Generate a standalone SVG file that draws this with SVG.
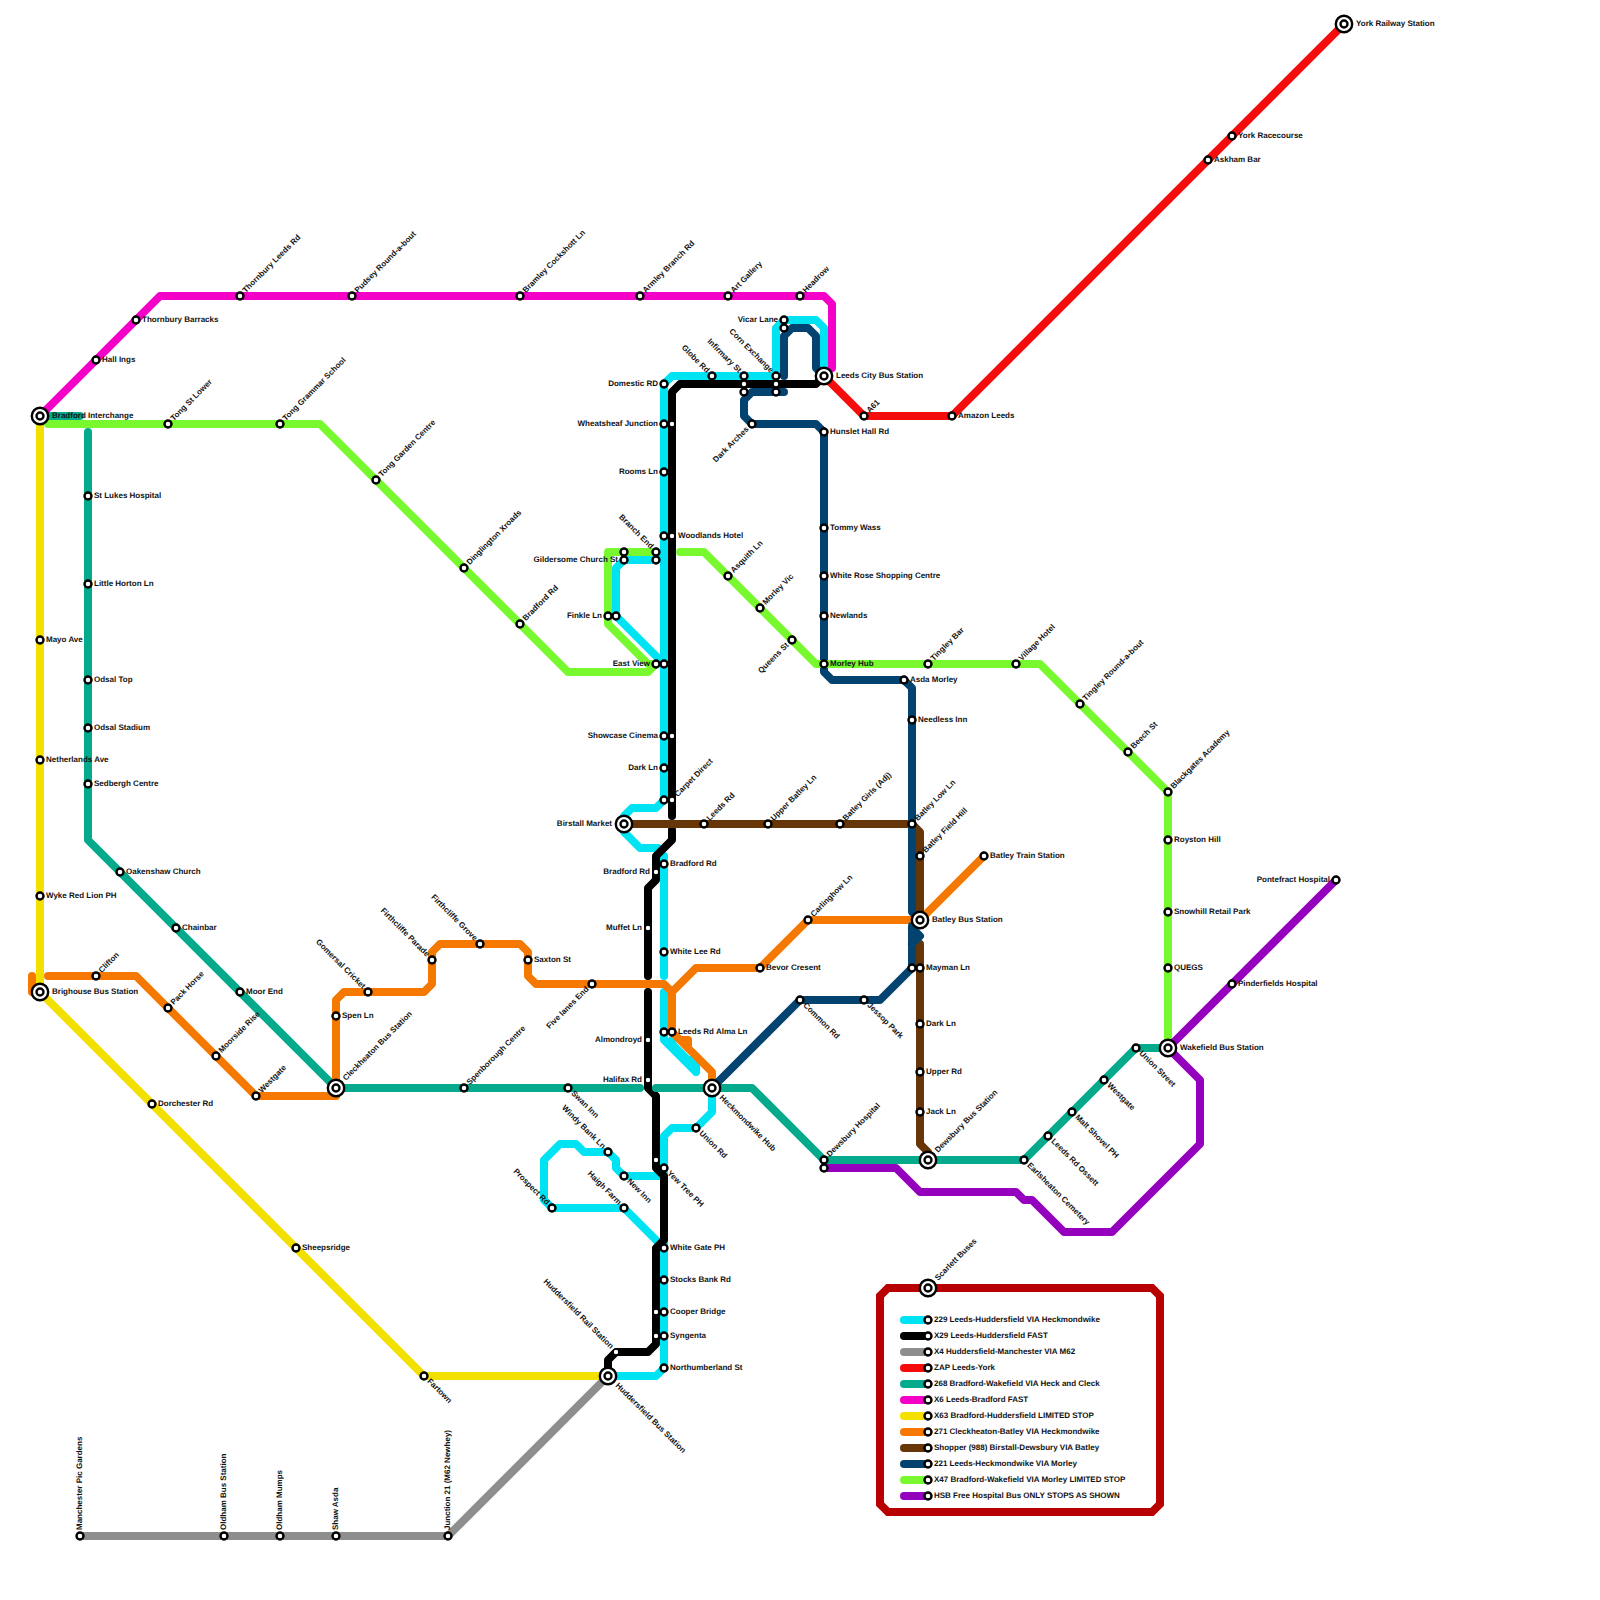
<svg xmlns="http://www.w3.org/2000/svg" width="1600" height="1600" viewBox="0 0 1600 1600">
<style>
text{font-family:"Liberation Sans",Arial,sans-serif;font-size:8px;font-weight:bold;fill:#111;text-rendering:geometricPrecision}
.e{text-anchor:end}
#lines path{fill:none;stroke-width:8;stroke-linecap:round;stroke-linejoin:round}
.cy{stroke:#00e3f2}.bk{stroke:#000}.gy{stroke:#8e8e8e}.rd{stroke:#f50d0d}.te{stroke:#05a98c}.mg{stroke:#f500c8}.ye{stroke:#f3e000}.or{stroke:#f57800}.br{stroke:#663508}.nv{stroke:#03436f}.gn{stroke:#78f82f}.pu{stroke:#9500bf}
.frame{fill:none;stroke:#b80000;stroke-width:8}
.st{fill:#fff;stroke:#000;stroke-width:2.4}
.sm{fill:#fff;stroke:#000;stroke-width:1.2}
.ring{fill:#fff;stroke:#000;stroke-width:2.4}
</style>
<defs>
<g id="ic"><circle class="ring" r="8.2"/><circle class="st" r="3.5"/></g>
</defs>
<path class="frame" d="M888 1288H1152L1160 1296V1504L1152 1512H888L880 1504V1296Z"/>
<g id="lines">
<path class="cy" d="M776 376V328L784 320H816L824 328V376M776 376H672L664 384V800L656 808H632L624 816V824L624 832L640 848H658M664 856V976M664 992V1040L696 1072M672 1040V1044L688 1060H696V1072M712 1088V1112L696 1128H672L664 1136V1368L656 1376H608M664 552L656 560H624L616 568V616L664 664M660 1176H624L616 1168V1160L608 1152H584L576 1144H560L544 1160V1200L552 1208H624L660 1244"/>
<path class="bk" d="M672 816V392L680 384H816L824 376M672 830V840L656 856V880L648 888V976M648 992V1088L656 1096V1168L664 1176V1240L656 1248V1344L648 1352H616L608 1360V1376"/>
<path class="gy" d="M608 1376L448 1536H80"/>
<path class="rd" d="M824 376L864 416H952L1344 24"/>
<path class="te" d="M48 416H80M88 432V840L336 1088H640M656 1088H752L824 1160H1024L1136 1048H1168"/>
<path class="mg" d="M40 416L160 296H824L832 304V368"/>
<path class="ye" d="M40 424V992L424 1376H608"/>
<path class="or" d="M32 976V992H40M48 976H136L256 1096H336V1000L344 992H424L432 984V952L440 944H520L528 952V976L536 984H664L672 992V1032L712 1072V1088M672 992L696 968H760L808 920H920L984 856M680 1040H688V1048"/>
<path class="br" d="M624 824H912L920 832V912M920 944V1144L928 1152V1160"/>
<path class="nv" d="M784 376V336L792 328H808L816 336V368L824 376M784 392H752L744 400V416L752 424H816L824 432V672L832 680H904L912 688V912L920 920M912 928L920 936L912 944M912 926V968L880 1000H800L712 1088"/>
<path class="gn" d="M48 424H320L568 672H648L656 664M656 552H608V624L648 664H656M680 552H704L816 664H1040L1168 792V1048"/>
<path class="pu" d="M824 1168H896L920 1192H1016L1024 1200H1032L1064 1232H1112L1200 1144V1080L1168 1048L1336 880"/>
<path class="cy" d="M904 1320H928"/><path class="bk" d="M904 1336H928"/><path class="gy" d="M904 1352H928"/><path class="rd" d="M904 1368H928"/><path class="te" d="M904 1384H928"/><path class="mg" d="M904 1400H928"/><path class="ye" d="M904 1416H928"/><path class="or" d="M904 1432H928"/><path class="br" d="M904 1448H928"/><path class="nv" d="M904 1464H928"/><path class="gn" d="M904 1480H928"/><path class="pu" d="M904 1496H928"/>
</g>
<g id="n1"><use href="#ic" x="40" y="416"/><text x="52" y="418">Bradford Interchange</text></g>
<g id="n2"><use href="#ic" x="40" y="992"/><text x="52" y="994">Brighouse Bus Station</text></g>
<g id="n3"><use href="#ic" x="336" y="1088"/><text transform="translate(336 1088) rotate(-45)" x="12" y="2">Cleckheaton Bus Station</text></g>
<g id="n4"><use href="#ic" x="608" y="1376"/><text transform="translate(608 1376) rotate(45)" x="12" y="2">Huddersfield Bus Station</text></g>
<g id="n5"><use href="#ic" x="624" y="824"/><text class="e" x="612" y="826">Birstall Market</text></g>
<g id="n6"><use href="#ic" x="712" y="1088"/><text transform="translate(712 1088) rotate(45)" x="12" y="2">Heckmondwike Hub</text></g>
<g id="n7"><use href="#ic" x="824" y="376"/><text x="836" y="378">Leeds City Bus Station</text></g>
<g id="n8"><use href="#ic" x="920" y="920"/><text x="932" y="922">Batley Bus Station</text></g>
<g id="n9"><use href="#ic" x="928" y="1160"/><text transform="translate(928 1160) rotate(-45)" x="12" y="2">Dewsbury Bus Station</text></g>
<g id="n10"><use href="#ic" x="1168" y="1048"/><text x="1180" y="1050">Wakefield Bus Station</text></g>
<g id="n11"><use href="#ic" x="1344" y="24"/><text x="1356" y="26">York Railway Station</text></g>
<g id="n12"><use href="#ic" x="928" y="1288"/><text transform="translate(928 1288) rotate(-45)" x="12" y="2">Scarlett Buses</text></g>
<g id="s1"><circle class="st" cx="1232" cy="136" r="3.5"/><text x="1238" y="138">York Racecourse</text></g>
<g id="s2"><circle class="st" cx="1208" cy="160" r="3.5"/><text x="1214" y="162">Askham Bar</text></g>
<g id="s3"><circle class="st" cx="952" cy="416" r="3.5"/><text x="958" y="418">Amazon Leeds</text></g>
<g id="s4"><circle class="st" cx="864" cy="416" r="3.5"/><text transform="translate(864 416) rotate(-45)" x="6" y="2">A61</text></g>
<g id="s5"><circle class="st" cx="136" cy="320" r="3.5"/><text x="142" y="322">Thornbury Barracks</text></g>
<g id="s6"><circle class="st" cx="96" cy="360" r="3.5"/><text x="102" y="362">Hall Ings</text></g>
<g id="s7"><circle class="st" cx="240" cy="296" r="3.5"/><text transform="translate(240 296) rotate(-45)" x="6" y="2">Thornbury Leeds Rd</text></g>
<g id="s8"><circle class="st" cx="352" cy="296" r="3.5"/><text transform="translate(352 296) rotate(-45)" x="6" y="2">Pudsey Round-a-bout</text></g>
<g id="s9"><circle class="st" cx="520" cy="296" r="3.5"/><text transform="translate(520 296) rotate(-45)" x="6" y="2">Bramley Cockshott Ln</text></g>
<g id="s10"><circle class="st" cx="640" cy="296" r="3.5"/><text transform="translate(640 296) rotate(-45)" x="6" y="2">Armley Branch Rd</text></g>
<g id="s11"><circle class="st" cx="728" cy="296" r="3.5"/><text transform="translate(728 296) rotate(-45)" x="6" y="2">Art Gallery</text></g>
<g id="s12"><circle class="st" cx="800" cy="296" r="3.5"/><text transform="translate(800 296) rotate(-45)" x="6" y="2">Headrow</text></g>
<g id="s13"><circle class="st" cx="168" cy="424" r="3.5"/><text transform="translate(168 424) rotate(-45)" x="6" y="2">Tong St Lower</text></g>
<g id="s14"><circle class="st" cx="280" cy="424" r="3.5"/><text transform="translate(280 424) rotate(-45)" x="6" y="2">Tong Grammar School</text></g>
<g id="s15"><circle class="st" cx="376" cy="480" r="3.5"/><text transform="translate(376 480) rotate(-45)" x="6" y="2">Tong Garden Centre</text></g>
<g id="s16"><circle class="st" cx="464" cy="568" r="3.5"/><text transform="translate(464 568) rotate(-45)" x="6" y="2">Dinglington Xroads</text></g>
<g id="s17"><circle class="st" cx="520" cy="624" r="3.5"/><text transform="translate(520 624) rotate(-45)" x="6" y="2">Bradford Rd</text></g>
<g id="s18"><circle class="st" cx="88" cy="496" r="3.5"/><text x="94" y="498">St Lukes Hospital</text></g>
<g id="s19"><circle class="st" cx="88" cy="584" r="3.5"/><text x="94" y="586">Little Horton Ln</text></g>
<g id="s20"><circle class="st" cx="88" cy="680" r="3.5"/><text x="94" y="682">Odsal Top</text></g>
<g id="s21"><circle class="st" cx="88" cy="728" r="3.5"/><text x="94" y="730">Odsal Stadium</text></g>
<g id="s22"><circle class="st" cx="88" cy="784" r="3.5"/><text x="94" y="786">Sedbergh Centre</text></g>
<g id="s23"><circle class="st" cx="120" cy="872" r="3.5"/><text x="126" y="874">Oakenshaw Church</text></g>
<g id="s24"><circle class="st" cx="176" cy="928" r="3.5"/><text x="182" y="930">Chainbar</text></g>
<g id="s25"><circle class="st" cx="240" cy="992" r="3.5"/><text x="246" y="994">Moor End</text></g>
<g id="s26"><circle class="st" cx="40" cy="640" r="3.5"/><text x="46" y="642">Mayo Ave</text></g>
<g id="s27"><circle class="st" cx="40" cy="760" r="3.5"/><text x="46" y="762">Netherlands Ave</text></g>
<g id="s28"><circle class="st" cx="40" cy="896" r="3.5"/><text x="46" y="898">Wyke Red Lion PH</text></g>
<g id="s29"><circle class="st" cx="152" cy="1104" r="3.5"/><text x="158" y="1106">Dorchester Rd</text></g>
<g id="s30"><circle class="st" cx="296" cy="1248" r="3.5"/><text x="302" y="1250">Sheepsridge</text></g>
<g id="s31"><circle class="st" cx="424" cy="1376" r="3.5"/><text transform="translate(424 1376) rotate(45)" x="6" y="2">Fartown</text></g>
<g id="s32"><circle class="st" cx="96" cy="976" r="3.5"/><text transform="translate(96 976) rotate(-45)" x="6" y="2">Clifton</text></g>
<g id="s33"><circle class="st" cx="168" cy="1008" r="3.5"/><text transform="translate(168 1008) rotate(-45)" x="6" y="2">Pack Horse</text></g>
<g id="s34"><circle class="st" cx="216" cy="1056" r="3.5"/><text transform="translate(216 1056) rotate(-45)" x="6" y="2">Moorside Rise</text></g>
<g id="s35"><circle class="st" cx="256" cy="1096" r="3.5"/><text transform="translate(256 1096) rotate(-45)" x="6" y="2">Westgate</text></g>
<g id="s36"><circle class="st" cx="336" cy="1016" r="3.5"/><text x="342" y="1018">Spen Ln</text></g>
<g id="s37"><circle class="st" cx="368" cy="992" r="3.5"/><text class="e" transform="translate(368 992) rotate(45)" x="-6" y="2">Gomersal Cricket</text></g>
<g id="s38"><circle class="st" cx="432" cy="960" r="3.5"/><text class="e" transform="translate(432 960) rotate(45)" x="-6" y="2">Firthcliffe Parade</text></g>
<g id="s39"><circle class="st" cx="480" cy="944" r="3.5"/><text class="e" transform="translate(480 944) rotate(45)" x="-6" y="2">Firthcliffe Grove</text></g>
<g id="s40"><circle class="st" cx="528" cy="960" r="3.5"/><text x="534" y="962">Saxton St</text></g>
<g id="s41"><circle class="st" cx="592" cy="984" r="3.5"/><text class="e" transform="translate(592 984) rotate(-45)" x="-6" y="2">Five lanes End</text></g>
<g id="s42"><circle class="st" cx="464" cy="1088" r="3.5"/><text transform="translate(464 1088) rotate(-45)" x="6" y="2">Spenborough Centre</text></g>
<g id="s43"><circle class="st" cx="568" cy="1088" r="3.5"/><text transform="translate(568 1088) rotate(45)" x="6" y="2">Swan Inn</text></g>
<g id="s44"><circle class="st" cx="664" cy="384" r="3.5"/><text class="e" x="658" y="386">Domestic RD</text></g>
<g id="s45"><circle class="st" cx="664" cy="424" r="3.5"/><circle class="sm" cx="672" cy="424" r="2.8"/><text class="e" x="658" y="426">Wheatsheaf Junction</text></g>
<g id="s46"><circle class="st" cx="664" cy="472" r="3.5"/><text class="e" x="658" y="474">Rooms Ln</text></g>
<g id="s47"><circle class="st" cx="664" cy="536" r="3.5"/><circle class="sm" cx="672" cy="536" r="2.8"/><text x="678" y="538">Woodlands Hotel</text></g>
<g id="s48"><circle class="st" cx="656" cy="552" r="3.5"/><circle class="st" cx="656" cy="560" r="3.5"/><text class="e" transform="translate(656 552) rotate(45)" x="-6" y="2">Branch End</text></g>
<g id="s49"><circle class="st" cx="624" cy="552" r="3.5"/><circle class="st" cx="624" cy="560" r="3.5"/><text class="e" x="618" y="562">Gildersome Church St</text></g>
<g id="s50"><circle class="st" cx="608" cy="616" r="3.5"/><circle class="st" cx="616" cy="616" r="3.5"/><text class="e" x="602" y="618">Finkle Ln</text></g>
<g id="s51"><circle class="st" cx="656" cy="664" r="3.5"/><circle class="st" cx="664" cy="664" r="3.5"/><text class="e" x="650" y="666">East View</text></g>
<g id="s52"><circle class="st" cx="664" cy="736" r="3.5"/><circle class="sm" cx="672" cy="736" r="2.8"/><text class="e" x="658" y="738">Showcase Cinema</text></g>
<g id="s53"><circle class="st" cx="664" cy="768" r="3.5"/><text class="e" x="658" y="770">Dark Ln</text></g>
<g id="s54"><circle class="st" cx="664" cy="800" r="3.5"/><circle class="sm" cx="672" cy="800" r="2.8"/><text transform="translate(672 800) rotate(-45)" x="6" y="2">Carpet Direct</text></g>
<g id="s55"><circle class="st" cx="664" cy="864" r="3.5"/><text x="670" y="866">Bradford Rd</text></g>
<g id="s56"><circle class="sm" cx="656" cy="872" r="2.8"/><text class="e" x="650" y="874">Bradford Rd</text></g>
<g id="s57"><circle class="sm" cx="648" cy="928" r="2.8"/><text class="e" x="642" y="930">Muffet Ln</text></g>
<g id="s58"><circle class="st" cx="664" cy="952" r="3.5"/><text x="670" y="954">White Lee Rd</text></g>
<g id="s59"><circle class="st" cx="664" cy="1032" r="3.5"/><circle class="st" cx="672" cy="1032" r="3.5"/><text x="678" y="1034">Leeds Rd Alma Ln</text></g>
<g id="s60"><circle class="sm" cx="648" cy="1040" r="2.8"/><text class="e" x="642" y="1042">Almondroyd</text></g>
<g id="s61"><circle class="sm" cx="648" cy="1080" r="2.8"/><text class="e" x="642" y="1082">Halifax Rd</text></g>
<g id="s62"><circle class="st" cx="696" cy="1128" r="3.5"/><text transform="translate(696 1128) rotate(45)" x="6" y="2">Union Rd</text></g>
<g id="s63"><circle class="sm" cx="656" cy="1160" r="2.8"/><circle class="st" cx="664" cy="1168" r="3.5"/><text transform="translate(664 1168) rotate(45)" x="6" y="2">Yew Tree PH</text></g>
<g id="s64"><circle class="st" cx="608" cy="1152" r="3.5"/><text class="e" transform="translate(608 1152) rotate(45)" x="-6" y="2">Windy Bank Ln</text></g>
<g id="s65"><circle class="st" cx="624" cy="1176" r="3.5"/><text transform="translate(624 1176) rotate(45)" x="6" y="2">New Inn</text></g>
<g id="s66"><circle class="st" cx="552" cy="1208" r="3.5"/><text class="e" transform="translate(552 1208) rotate(45)" x="-6" y="2">Prospect Rd</text></g>
<g id="s67"><circle class="st" cx="624" cy="1208" r="3.5"/><text class="e" transform="translate(624 1208) rotate(45)" x="-6" y="2">Haigh Farm</text></g>
<g id="s68"><circle class="st" cx="664" cy="1248" r="3.5"/><text x="670" y="1250">White Gate PH</text></g>
<g id="s69"><circle class="st" cx="664" cy="1280" r="3.5"/><text x="670" y="1282">Stocks Bank Rd</text></g>
<g id="s70"><circle class="sm" cx="656" cy="1312" r="2.8"/><circle class="st" cx="664" cy="1312" r="3.5"/><text x="670" y="1314">Cooper Bridge</text></g>
<g id="s71"><circle class="sm" cx="656" cy="1336" r="2.8"/><circle class="st" cx="664" cy="1336" r="3.5"/><text x="670" y="1338">Syngenta</text></g>
<g id="s72"><circle class="st" cx="664" cy="1368" r="3.5"/><text x="670" y="1370">Northumberland St</text></g>
<g id="s73"><circle class="sm" cx="616" cy="1352" r="2.8"/><text class="e" transform="translate(616 1352) rotate(45)" x="-6" y="2">Huddersfield Rail Station</text></g>
<g id="s74"><circle class="st" cx="712" cy="376" r="3.5"/><text class="e" transform="translate(712 376) rotate(45)" x="-6" y="2">Globe Rd</text></g>
<g id="s75"><circle class="st" cx="744" cy="376" r="3.5"/><circle class="sm" cx="744" cy="384" r="2.8"/><circle class="st" cx="744" cy="392" r="3.5"/><text class="e" transform="translate(744 376) rotate(45)" x="-6" y="2">Infirmary St</text></g>
<g id="s76"><circle class="st" cx="776" cy="376" r="3.5"/><circle class="sm" cx="776" cy="384" r="2.8"/><circle class="st" cx="776" cy="392" r="3.5"/><text class="e" transform="translate(776 376) rotate(45)" x="-6" y="2">Corn Exchange</text></g>
<g id="s77"><circle class="st" cx="784" cy="320" r="3.5"/><circle class="st" cx="784" cy="328" r="3.5"/><text class="e" x="778" y="322">Vicar Lane</text></g>
<g id="s78"><circle class="st" cx="752" cy="424" r="3.5"/><text class="e" transform="translate(752 424) rotate(-45)" x="-6" y="2">Dark Arches</text></g>
<g id="s79"><circle class="st" cx="824" cy="432" r="3.5"/><text x="830" y="434">Hunslet Hall Rd</text></g>
<g id="s80"><circle class="st" cx="824" cy="528" r="3.5"/><text x="830" y="530">Tommy Wass</text></g>
<g id="s81"><circle class="st" cx="824" cy="576" r="3.5"/><text x="830" y="578">White Rose Shopping Centre</text></g>
<g id="s82"><circle class="st" cx="824" cy="616" r="3.5"/><text x="830" y="618">Newlands</text></g>
<g id="s83"><circle class="st" cx="824" cy="664" r="3.5"/><text x="830" y="666">Morley Hub</text></g>
<g id="s84"><circle class="st" cx="728" cy="576" r="3.5"/><text transform="translate(728 576) rotate(-45)" x="6" y="2">Asquith Ln</text></g>
<g id="s85"><circle class="st" cx="760" cy="608" r="3.5"/><text transform="translate(760 608) rotate(-45)" x="6" y="2">Morley Vic</text></g>
<g id="s86"><circle class="st" cx="792" cy="640" r="3.5"/><text class="e" transform="translate(792 640) rotate(-45)" x="-6" y="2">Queens St</text></g>
<g id="s87"><circle class="st" cx="928" cy="664" r="3.5"/><text transform="translate(928 664) rotate(-45)" x="6" y="2">Tingley Bar</text></g>
<g id="s88"><circle class="st" cx="1016" cy="664" r="3.5"/><text transform="translate(1016 664) rotate(-45)" x="6" y="2">Village Hotel</text></g>
<g id="s89"><circle class="st" cx="1080" cy="704" r="3.5"/><text transform="translate(1080 704) rotate(-45)" x="6" y="2">Tingley Round-a-bout</text></g>
<g id="s90"><circle class="st" cx="1128" cy="752" r="3.5"/><text transform="translate(1128 752) rotate(-45)" x="6" y="2">Beech St</text></g>
<g id="s91"><circle class="st" cx="1168" cy="792" r="3.5"/><text transform="translate(1168 792) rotate(-45)" x="6" y="2">Blackgates Academy</text></g>
<g id="s92"><circle class="st" cx="1168" cy="840" r="3.5"/><text x="1174" y="842">Royston Hill</text></g>
<g id="s93"><circle class="st" cx="1168" cy="912" r="3.5"/><text x="1174" y="914">Snowhill Retail Park</text></g>
<g id="s94"><circle class="st" cx="1168" cy="968" r="3.5"/><text x="1174" y="970">QUEGS</text></g>
<g id="s95"><circle class="st" cx="904" cy="680" r="3.5"/><text x="910" y="682">Asda Morley</text></g>
<g id="s96"><circle class="st" cx="912" cy="720" r="3.5"/><text x="918" y="722">Needless Inn</text></g>
<g id="s97"><circle class="st" cx="912" cy="824" r="3.5"/><text transform="translate(912 824) rotate(-45)" x="6" y="2">Batley Low Ln</text></g>
<g id="s98"><circle class="st" cx="920" cy="856" r="3.5"/><text transform="translate(920 856) rotate(-45)" x="6" y="2">Batley Field Hill</text></g>
<g id="s99"><circle class="st" cx="984" cy="856" r="3.5"/><text x="990" y="858">Batley Train Station</text></g>
<g id="s100"><circle class="st" cx="704" cy="824" r="3.5"/><text transform="translate(704 824) rotate(-45)" x="6" y="2">Leeds Rd</text></g>
<g id="s101"><circle class="st" cx="768" cy="824" r="3.5"/><text transform="translate(768 824) rotate(-45)" x="6" y="2">Upper Batley Ln</text></g>
<g id="s102"><circle class="st" cx="840" cy="824" r="3.5"/><text transform="translate(840 824) rotate(-45)" x="6" y="2">Batley Girls (Adj)</text></g>
<g id="s103"><circle class="st" cx="808" cy="920" r="3.5"/><text transform="translate(808 920) rotate(-45)" x="6" y="2">Carlinghow Ln</text></g>
<g id="s104"><circle class="st" cx="760" cy="968" r="3.5"/><text x="766" y="970">Bevor Cresent</text></g>
<g id="s105"><circle class="st" cx="912" cy="968" r="3.5"/><circle class="st" cx="920" cy="968" r="3.5"/><text x="926" y="970">Mayman Ln</text></g>
<g id="s106"><circle class="st" cx="800" cy="1000" r="3.5"/><text transform="translate(800 1000) rotate(45)" x="6" y="2">Common Rd</text></g>
<g id="s107"><circle class="st" cx="864" cy="1000" r="3.5"/><text transform="translate(864 1000) rotate(45)" x="6" y="2">Jessop Park</text></g>
<g id="s108"><circle class="st" cx="920" cy="1024" r="3.5"/><text x="926" y="1026">Dark Ln</text></g>
<g id="s109"><circle class="st" cx="920" cy="1072" r="3.5"/><text x="926" y="1074">Upper Rd</text></g>
<g id="s110"><circle class="st" cx="920" cy="1112" r="3.5"/><text x="926" y="1114">Jack Ln</text></g>
<g id="s111"><circle class="st" cx="824" cy="1160" r="3.5"/><circle class="st" cx="824" cy="1168" r="3.5"/><text transform="translate(824 1160) rotate(-45)" x="6" y="2">Dewsbury Hospital</text></g>
<g id="s112"><circle class="st" cx="1024" cy="1160" r="3.5"/><text transform="translate(1024 1160) rotate(45)" x="6" y="2">Earlsheaton Cemetery</text></g>
<g id="s113"><circle class="st" cx="1048" cy="1136" r="3.5"/><text transform="translate(1048 1136) rotate(45)" x="6" y="2">Leeds Rd Ossett</text></g>
<g id="s114"><circle class="st" cx="1072" cy="1112" r="3.5"/><text transform="translate(1072 1112) rotate(45)" x="6" y="2">Malt Shovel PH</text></g>
<g id="s115"><circle class="st" cx="1104" cy="1080" r="3.5"/><text transform="translate(1104 1080) rotate(45)" x="6" y="2">Westgate</text></g>
<g id="s116"><circle class="st" cx="1136" cy="1048" r="3.5"/><text transform="translate(1136 1048) rotate(45)" x="6" y="2">Union Street</text></g>
<g id="s117"><circle class="st" cx="1232" cy="984" r="3.5"/><text x="1238" y="986">Pinderfields Hospital</text></g>
<g id="s118"><circle class="st" cx="1336" cy="880" r="3.5"/><text class="e" x="1330" y="882">Pontefract Hospital</text></g>
<g id="s119"><circle class="st" cx="80" cy="1536" r="3.5"/><text transform="translate(80 1536) rotate(-90)" x="6" y="2">Manchester Pic Gardens</text></g>
<g id="s120"><circle class="st" cx="224" cy="1536" r="3.5"/><text transform="translate(224 1536) rotate(-90)" x="6" y="2">Oldham Bus Station</text></g>
<g id="s121"><circle class="st" cx="280" cy="1536" r="3.5"/><text transform="translate(280 1536) rotate(-90)" x="6" y="2">Oldham Mumps</text></g>
<g id="s122"><circle class="st" cx="336" cy="1536" r="3.5"/><text transform="translate(336 1536) rotate(-90)" x="6" y="2">Shaw Asda</text></g>
<g id="s123"><circle class="st" cx="448" cy="1536" r="3.5"/><text transform="translate(448 1536) rotate(-90)" x="6" y="2">Junction 21 (M62 Newhey)</text></g>
<g id="legend">
<circle class="st" cx="928" cy="1320" r="3.5"/><text x="934" y="1322">229 Leeds-Huddersfield VIA Heckmondwike</text>
<circle class="st" cx="928" cy="1336" r="3.5"/><text x="934" y="1338">X29 Leeds-Huddersfield FAST</text>
<circle class="st" cx="928" cy="1352" r="3.5"/><text x="934" y="1354">X4 Huddersfield-Manchester VIA M62</text>
<circle class="st" cx="928" cy="1368" r="3.5"/><text x="934" y="1370">ZAP Leeds-York</text>
<circle class="st" cx="928" cy="1384" r="3.5"/><text x="934" y="1386">268 Bradford-Wakefield VIA Heck and Cleck</text>
<circle class="st" cx="928" cy="1400" r="3.5"/><text x="934" y="1402">X6 Leeds-Bradford FAST</text>
<circle class="st" cx="928" cy="1416" r="3.5"/><text x="934" y="1418">X63 Bradford-Huddersfield LIMITED STOP</text>
<circle class="st" cx="928" cy="1432" r="3.5"/><text x="934" y="1434">271 Cleckheaton-Batley VIA Heckmondwike</text>
<circle class="st" cx="928" cy="1448" r="3.5"/><text x="934" y="1450">Shopper (988) Birstall-Dewsbury VIA Batley</text>
<circle class="st" cx="928" cy="1464" r="3.5"/><text x="934" y="1466">221 Leeds-Heckmondwike VIA Morley</text>
<circle class="st" cx="928" cy="1480" r="3.5"/><text x="934" y="1482">X47 Bradford-Wakefield VIA Morley LIMITED STOP</text>
<circle class="st" cx="928" cy="1496" r="3.5"/><text x="934" y="1498">HSB Free Hospital Bus ONLY STOPS AS SHOWN</text>
</g>
</svg>
